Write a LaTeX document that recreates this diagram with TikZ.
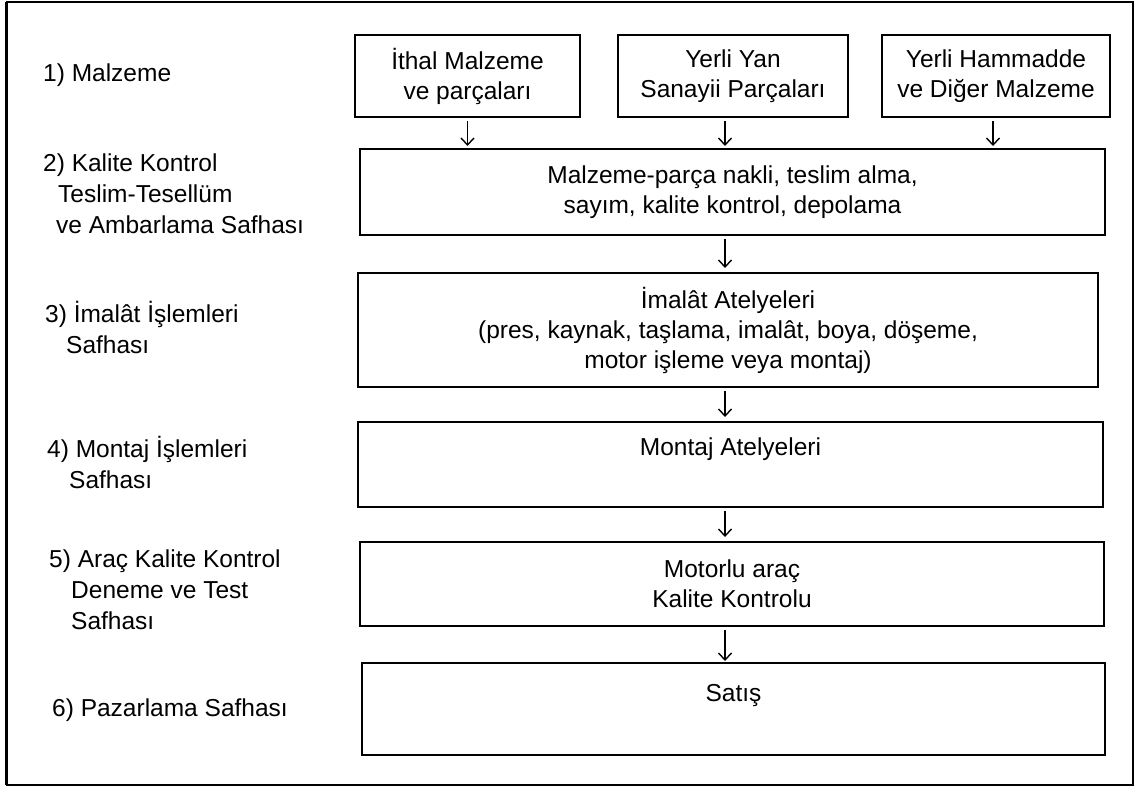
\documentclass[tikz,border=0pt]{standalone}
\usepackage{fontspec}
\setmainfont{Liberation Sans}
\usetikzlibrary{arrows.meta}
\begin{document}
\begin{tikzpicture}[x=1pt,y=-1pt,
  every node/.style={font=\fontsize{24.5}{30}\selectfont, inner sep=0pt},
  box/.style={draw, line width=2pt, rectangle, align=center},
  lab/.style={anchor=north west, align=left, font=\fontsize{24.5}{31}\selectfont},
  arr/.style={-{Straight Barb[length=7pt,width=13pt,line width=1.4pt]}, line width=1.4pt, shorten <=3pt, shorten >=4pt}]
\useasboundingbox (0,0) rectangle (1142,788);
% outer frame
\draw[line width=2pt] (7,1.5) rectangle (1133,785);
\draw[line width=3.5pt] (6.5,1.5) -- (6.5,785);
% top boxes
\node[box, minimum width=225pt, minimum height=82pt] (bA) at (467.5,76) {İthal Malzeme\\ve parçaları};
\node[box, minimum width=230pt, minimum height=82pt] (bB) at (733,76) {Yerli Yan\\Sanayii Parçaları};
\node[box, minimum width=228pt, minimum height=82pt] (bC) at (996,76) {Yerli Hammadde\\ve Diğer Malzeme};
% stage boxes
\node[box, minimum width=745pt, minimum height=86pt] (b2) at (732.5,192) {Malzeme-parça nakli, teslim alma,\\sayım, kalite kontrol, depolama};
\node[box, minimum width=740pt, minimum height=114pt] (b3) at (728,330) {İmalât Atelyeleri\\(pres, kaynak, taşlama, imalât, boya, döşeme,\\motor işleme veya montaj)};
\node[box, minimum width=745pt, minimum height=85pt, text height=17.5pt, text depth=35.5pt] (b4) at (730.5,464.5) {Montaj Atelyeleri};
\node[box, minimum width=744pt, minimum height=84pt] (b5) at (732,584) {Motorlu araç\\Kalite Kontrolu};
\node[box, minimum width=743pt, minimum height=92pt, text height=17.5pt, text depth=32.5pt] (b6) at (733.5,709) {Satış};
% left labels
\node[lab] (l1) at (43,59.5) {\strut 1) Malzeme};
\node[lab] (l2) at (43,149.5) {\strut 2) Kalite Kontrol\\\hspace*{15pt}Teslim-Tesellüm\\\hspace*{13pt}ve Ambarlama Safhası};
\node[lab] (l3) at (45,300.5) {\strut 3) İmalât İşlemleri\\\hspace*{21pt}Safhası};
\node[lab] (l4) at (47,435.5) {\strut 4) Montaj İşlemleri\\\hspace*{22pt}Safhası};
\node[lab] (l5) at (49,545.5) {\strut 5) Araç Kalite Kontrol\\\hspace*{22pt}Deneme ve Test\\\hspace*{22pt}Safhası};
\node[lab] (l6) at (52,694.5) {\strut 6) Pazarlama Safhası};
% arrows
\coordinate (ax) at (725,0);
\draw[arr, shorten >=2pt] (bA.south) -- (bA.south |- b2.north);
\draw[arr, shorten >=2pt] ([xshift=-8pt]bB.south) -- ([xshift=-8pt]bB.south |- b2.north);
\draw[arr, shorten >=2pt] ([xshift=-3pt]bC.south) -- ([xshift=-3pt]bC.south |- b2.north);
\draw[arr] (ax |- b2.south) -- (ax |- b3.north);
\draw[arr] (ax |- b3.south) -- (ax |- b4.north);
\draw[arr] (ax |- b4.south) -- (ax |- b5.north);
\draw[arr, shorten >=1pt] (ax |- b5.south) -- (ax |- b6.north);
\end{tikzpicture}
\end{document}
